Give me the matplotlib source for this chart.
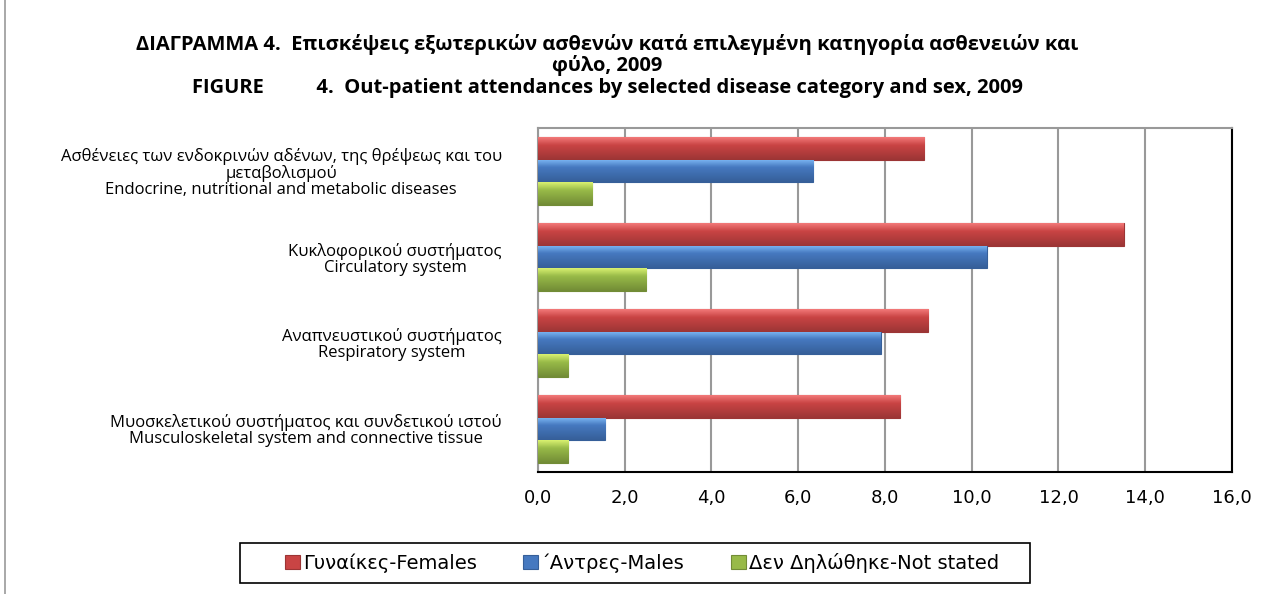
import numpy as np
import matplotlib.pyplot as plt
from matplotlib.patches import Rectangle
from matplotlib.colors import to_rgb

categories = [
    "Ασθένειες των ενδοκρινών αδένων, της θρέψεως και του\nμεταβολισμού\nEndocrine, nutritional and metabolic diseases",
    "Κυκλοφορικού συστήματος\nCirculatory system",
    "Αναπνευστικού συστήματος\nRespiratory system",
    "Μυοσκελετικού συστήματος και συνδετικού ιστού\nMusculoskeletal system and connective tissue",
]
females = [8.9, 13.5, 9.0, 8.35]
males = [6.35, 10.35, 7.9, 1.55]
not_stated = [1.25, 2.5, 0.7, 0.7]
series_names = ["Γυναίκες-Females", "΄Αντρες-Males", "Δεν Δηλώθηκε-Not stated"]
xticks = np.arange(0, 17, 2)

fig = plt.figure(figsize=(12.65, 5.94), dpi=100)
ax = fig.add_axes([0.4253, 0.2054, 0.5486, 0.5791])

y = np.arange(len(categories))
h = 0.267
colors = ["#C94444", "#4679C0", "#98BA48"]
lights = ["#F27878", "#7DB8F5", "#D8F070"]
darks = ["#9C3535", "#365F99", "#728C36"]


def grad(light, mid, dark, n=40):
    # light top -> mid -> dark bottom, like the bevelled Excel bars
    t = np.linspace(0, 1, n)
    l, m, d = map(np.array, (to_rgb(light), to_rgb(mid), to_rgb(dark)))
    rows = [l + (m - l) * (s / 0.35) if s < 0.35 else m + (d - m) * ((s - 0.35) / 0.65) for s in t]
    return np.array(rows)[:, None, :]


for i, (vals, name) in enumerate(zip([females, males, not_stated], series_names)):
    bars = ax.barh(y + (i - 1) * h, vals, height=h, color=colors[i], edgecolor=darks[i],
                   linewidth=0.8, label=name, zorder=3)
    g = grad(lights[i], colors[i], darks[i])
    for b in bars:
        x0, y0, w, hh = b.get_x(), b.get_y(), b.get_width(), b.get_height()
        im = ax.imshow(g, extent=(x0, x0 + w, y0 + hh, y0), origin="upper",
                       aspect="auto", zorder=3.5, interpolation="bilinear")
        im.set_clip_path(b)

ax.set_ylim(len(categories) - 0.5, -0.5)
ax.set_xlim(0, 16)
ax.set_xticks(xticks)
ax.set_xticklabels([f"{v:.1f}".replace(".", ",") for v in xticks], fontsize=13)
ax.set_yticks(y)
ax.set_yticklabels(categories, fontsize=12, family="Open Sans", ha="right",
                   multialignment="center", linespacing=1.0)
ax.tick_params(axis="both", length=0)
ax.tick_params(axis="x", pad=12)
ax.tick_params(axis="y", pad=26)
ax.grid(axis="x", color="#999999", linewidth=1.5, zorder=0)
for s in ["left", "top"]:
    ax.spines[s].set_color("#999999")
    ax.spines[s].set_linewidth(1.5)
for s in ["right", "bottom"]:
    ax.spines[s].set_color("black")
    ax.spines[s].set_linewidth(1.5)

fig.text(0.48, 0.925, "ΔΙΑΓΡΑΜΜΑ 4.  Επισκέψεις εξωτερικών ασθενών κατά επιλεγμένη κατηγορία ασθενειών και",
         ha="center", va="center", fontsize=14.5, fontweight="bold", family="Open Sans")
fig.text(0.48, 0.889, "φύλο, 2009", ha="center", va="center", fontsize=14.5, fontweight="bold",
         family="Open Sans")
fig.text(0.48, 0.852, "FIGURE          4.  Out-patient attendances by selected disease category and sex, 2009",
         ha="center", va="center", fontsize=14.5, fontweight="bold", family="Open Sans")

leg = fig.legend(loc="center", bbox_to_anchor=(0.5075, 0.052), ncol=3, fontsize=14,
                 frameon=False, handlelength=0.75, handleheight=0.75, handletextpad=0.15,
                 columnspacing=2.4, borderaxespad=0)
fig.patches.append(Rectangle((240 / 1265, 11 / 594), 790 / 1265, 40 / 594,
                             transform=fig.transFigure, fill=False, edgecolor="black", linewidth=1.2))

fig.patches.append(Rectangle((0.004, -0.01), 1.5, 1.5, transform=fig.transFigure,
                             fill=False, edgecolor="#999999", linewidth=1.2))

fig.savefig("out.png", dpi=100)
